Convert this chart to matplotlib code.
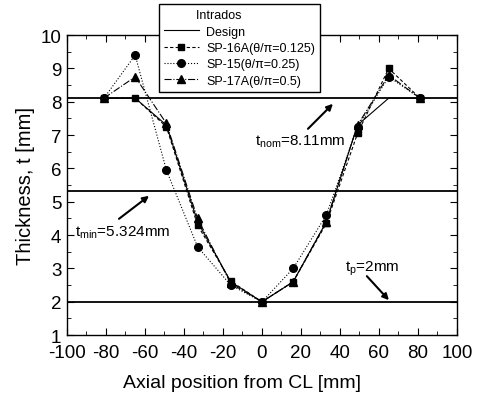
import numpy as np
import matplotlib.pyplot as plt
from matplotlib.ticker import MultipleLocator

plt.rcParams['font.family'] = ['Liberation Sans', 'DejaVu Sans']
plt.rcParams['axes.unicode_minus'] = False
plt.rcParams['mathtext.fontset'] = 'custom'
plt.rcParams['mathtext.rm'] = 'Liberation Sans'

# axial positions of measurement points [mm]
pos = [-81, -65, -49, -33, -16, 0, 16, 33, 49, 65, 81]

design = [8.11, 8.11, 7.3, 4.4, 2.6, 2.0, 2.6, 4.4, 7.3, 8.11, 8.11]
sp16a = [8.11, 8.11, 7.25, 4.3, 2.62, 2.0, 2.6, 4.35, 7.05, 9.0, 8.11]
sp15 = [8.11, 9.4, 5.95, 3.65, 2.5, 2.0, 3.0, 4.6, 7.25, 8.75, 8.11]
sp17a = [8.11, 8.75, 7.35, 4.5, 2.55, 2.0, 2.6, 4.4, 7.3, 8.8, 8.11]

t_nom = 8.11
t_min = 5.324
t_p = 2.0

fig = plt.figure(figsize=(4.78, 4.06), dpi=100)
ax = fig.add_axes([0.140, 0.172, 0.816, 0.739])

ax.axhline(t_nom, color='black', lw=1.3)
ax.axhline(t_min, color='black', lw=1.3)
ax.axhline(t_p, color='black', lw=1.3)

ax.plot(pos, design, '-', color='black', lw=0.8, label='Design')
ax.plot(pos, sp16a, 's--', color='black', lw=0.8, ms=5, dashes=(3, 2),
        label='SP-16A(\u03b8/\u03c0=0.125)')
ax.plot(pos, sp15, 'o:', color='black', lw=0.8, ms=5.5,
        label='SP-15(\u03b8/\u03c0=0.25)')
ax.plot(pos, sp17a, '^-.', color='black', lw=0.8, ms=6,
        label='SP-17A(\u03b8/\u03c0=0.5)')

ax.set_xlim(-100, 100)
ax.set_ylim(1, 10)
ax.xaxis.set_major_locator(MultipleLocator(20))
ax.xaxis.set_minor_locator(MultipleLocator(10))
ax.yaxis.set_major_locator(MultipleLocator(1))
ax.yaxis.set_minor_locator(MultipleLocator(0.5))
ax.tick_params(which='both', direction='in', top=True, right=True,
               labelsize=13.5)
ax.tick_params(axis='x', pad=6.5)
ax.tick_params(axis='y', pad=4)
ax.tick_params(which='major', length=5)
ax.tick_params(which='minor', length=3)
for s in ax.spines.values():
    s.set_linewidth(1.0)

ax.set_xlabel('Axial position from CL [mm]', fontsize=14)
ax.xaxis.set_label_coords(0.449, -0.13)
ax.set_ylabel('Thickness, t [mm]', fontsize=14.5, labelpad=4)

arrow = dict(arrowstyle='-|>', color='black', lw=1.5, mutation_scale=9,
             shrinkA=0, shrinkB=0)

ax.annotate('', xy=(-57.9, 5.18), xytext=(-73.3, 4.49), arrowprops=arrow)
ax.text(-96, 3.98, r'$\mathregular{t_{min}}$=5.324mm', fontsize=11)

ax.annotate('', xy=(36.4, 7.94), xytext=(23.6, 7.19), arrowprops=arrow)
ax.text(-3.6, 6.71, r'$\mathregular{t_{nom}}$=8.11mm', fontsize=11)

ax.annotate('', xy=(65.1, 2.05), xytext=(53.8, 2.77), arrowprops=arrow)
ax.text(42.6, 2.93, r'$\mathregular{t_p}$=2mm', fontsize=11)

leg = ax.legend(loc='upper left', bbox_to_anchor=(0.236, 1.103),
                borderaxespad=0, title='Intrados' + ' ' * 12,
                fontsize=9, title_fontsize=9, frameon=True, fancybox=False,
                edgecolor='black', handlelength=2.8, handletextpad=0.6,
                borderpad=0.4, labelspacing=0.35, framealpha=1)
leg.get_frame().set_linewidth(1.0)

fig.savefig('out.png', dpi=100)
